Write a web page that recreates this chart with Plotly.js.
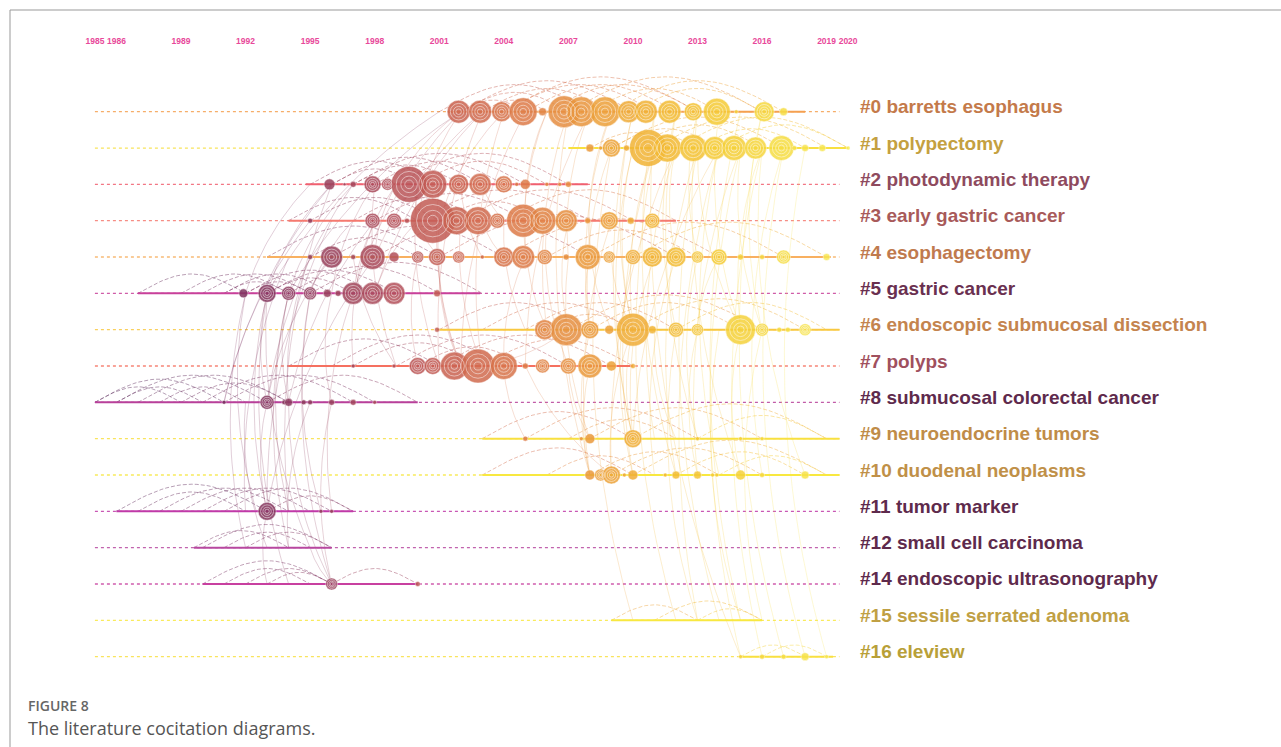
<!DOCTYPE html>
<html>
<head>
<meta charset="utf-8">
<script src="https://cdn.plot.ly/plotly-3.0.1.min.js"></script>
<style>
html,body{margin:0;padding:0;background:#fff;}
#chart{width:1281px;height:747px;}
</style>
</head>
<body>
<div id="chart"></div>
<script>
// ---------- DATA ----------
const tickYears = [1985, 1986, 1989, 1992, 1995, 1998, 2001, 2004, 2007, 2010, 2013, 2016, 2019, 2020];
const tickText  = ['1985','1986','1989','1992','1995','1998','2001','2004','2007','2010','2013','2016','2019','2020'];

const clusterIds   = ['#0','#1','#2','#3','#4','#5','#6','#7','#8','#9','#10','#11','#12','#14','#15','#16'];
const clusterNames = ['barretts esophagus','polypectomy','photodynamic therapy','early gastric cancer','esophagectomy',
  'gastric cancer','endoscopic submucosal dissection','polyps','submucosal colorectal cancer','neuroendocrine tumors',
  'duodenal neoplasms','tumor marker','small cell carcinoma','endoscopic ultrasonography','sessile serrated adenoma','eleview'];
const labelColors  = ['#c47a4a','#c4a040','#8e4a5e','#a85a5a','#c07a4e','#6a3050','#c4844e','#a0505e','#5e2a4c',
  '#c08c48','#c09048','#5e2a4c','#5e2a4c','#5e2a4c','#c0a044','#b8a038'];
const lineColors   = ['#f5a050','#f8e040','#f06070','#f57a70','#f8b060','#c8409a','#f8c840','#f57060','#b8409a',
  '#f8e040','#f8e840','#c03aa8','#b848a0','#c840a0','#f8e840','#f8e040'];
const spanStart = [2001.4, 2007, 1994.8, 1994, 1993, 1987, 2001, 1994, 1985, 2003, 2003, 1986, 1989.6, 1990, 2009, 2015];
const spanEnd   = [2018, 2020, 2007.9, 2012, 2019.2, 2002.9, 2019.6, 2010, 2000, 2019.6, 2019.6, 1997, 1996, 2000, 2016, 2019.3];
const timelineStart = 1985, timelineEnd = 2019.6;

// nodes per cluster row: publication year and node diameter (citation size)
const nodeYears = [
  [2001.9,2002.9,2003.9,2004.9,2005.8,2006.8,2007.6,2008.7,2009.8,2010.6,2011.7,2012.8,2013.9,2014.8,2016.1,2017],
  [2008,2008.5,2009,2009.7,2010.7,2011.6,2012.8,2013.8,2014.7,2015.7,2016.9,2017.5,2018,2018.8,2020],
  [1995.9,1996.6,1997,1997.9,1998.6,1999.6,2000.7,2001.9,2002.9,2004,2004.6,2005,2006,2006.6,2007],
  [1995,1997.9,1998.9,1999.5,2000.7,2001.8,2002.8,2003.7,2004.9,2005.8,2006.9,2007.9,2008.9,2009.9,2010.9],
  [1995,1996,1997,1997.9,1998.9,2000,2000.9,2001.9,2003,2004,2004.9,2005.9,2006.9,2007.9,2008.9,2010,2010.9,2012,2013,2014,2015,2016,2017,2019],
  [1991.9,1993,1994,1995,1995.8,1996.3,1997,1997.9,1998.9,2000.9],
  [2000.9,2005.9,2006.9,2008,2008.9,2010,2010.9,2012,2013,2015,2016,2016.8,2017.2,2018],
  [1997,1998.9,2000,2000.7,2001.7,2002.8,2004,2005,2005.8,2007,2008,2009,2010],
  [1991,1993,1993.8,1994,1994.7,1995,1996,1997,1998],
  [2005,2007.6,2008,2010,2013,2015,2016],
  [2008,2008.5,2009,2009.6,2010,2011.5,2012,2013,2013.7,2013.9,2015,2016,2018],
  [1993,1995.5,1996],
  [],
  [1996,2000],
  [],
  [2015,2016,2017,2018,2019]
];
const nodeSizes = [
  [23,23,20,28,8,32,30,30,22,23,23,18,27,4,20,8],
  [8,4,18,6,37,28,27,23,25,22,25,5,7,7,4],
  [11,3,6,17,12,36,28,20,22,17,4,10,4,4,6],
  [5,15,15,5,45,28,28,15,33,27,22,6,18,7,15],
  [5,22,5,25,10,12,17,12,4,20,23,15,6,25,12,15,20,20,12,16,6,5,14,7],
  [9,18,14,13,8,6,22,22,22,7],
  [5,20,32,18,9,33,8,15,12,30,13,5,5,12],
  [4,4,17,17,28,34,27,6,14,16,24,10,5],
  [4,14,5,8,5,5,6,6,4],
  [5,4,10,18,4,4,4],
  [10,12,18,4,10,4,8,8,4,4,10,5,8],
  [18,4,4],
  [],
  [12,5],
  [],
  [4,5,5,8,4]
];

// co-citation arcs inside a cluster: [row, fromYear, toYear]
const intraArcs = [
  [0,2002,2005],[0,2002,2007],[0,2003,2009],[0,2004,2011],[0,2006,2013],[0,2007,2016],[0,2009,2017],[0,2001,2008],[0,2005,2012],[0,2008,2014],[0,2003,2006],[0,2010,2016],[0,2002,2010],[0,2004,2013],
  [1,2009,2014],[1,2010,2016],[1,2011,2019],[1,2012,2020],[1,2013,2018],[1,2008,2012],[1,2014,2020],[1,2009,2017],[1,2010,2013],
  [2,1995,2001],[2,1996,2003],[2,1997,2005],[2,1999,2007],[2,2000,2006],[2,1998,2004],[2,1996,2000],[2,1997,2002],
  [3,1995,2001],[3,1998,2005],[3,2000,2008],[3,2002,2010],[3,1994,2000],[3,2004,2012],[3,1997,2003],[3,2001,2006],
  [4,1993,2001],[4,1996,2004],[4,1998,2008],[4,2004,2014],[4,2008,2017],[4,2001,2012],[4,2010,2019],[4,1995,2000],[4,2006,2013],
  [5,1987,1992],[5,1989,1994],[5,1991,1996],[5,1992,1998],[5,1993,1999],[5,1994,2001],[5,1990,1995],[5,1995,2003],[5,1992,1995],[5,1993,1997],[5,1991,1994],
  [6,2005,2012],[6,2007,2016],[6,2010,2018],[6,2012,2019],[6,2003,2010],[6,2008,2015],[6,2001,2008],[6,2006,2010],
  [7,1997,2003],[7,1999,2007],[7,2001,2009],[7,1994,2001],[7,2003,2010],[7,1996,2004],[7,2000,2005],
  [8,1985,1991],[8,1986,1993],[8,1987,1994],[8,1988,1992],[8,1990,1997],[8,1991,1998],[8,1993,2000],[8,1985,1989],[8,1989,1994],[8,1986,1990],
  [9,2003,2010],[9,2005,2013],[9,2008,2016],[9,2010,2019],[9,2013,2019],[9,2007,2012],
  [10,2003,2010],[10,2008,2014],[10,2009,2016],[10,2010,2019],[10,2012,2018],[10,2014,2019],[10,2006,2011],
  [11,1986,1993],[11,1988,1994],[11,1990,1996],[11,1991,1997],[11,1993,1997],[11,1987,1992],[11,1989,1995],
  [12,1989.6,1994],[12,1990,1996],[12,1991,1995],[12,1992,1996],
  [13,1990,1996],[13,1991,1995],[13,1992,1996],[13,1996,2000],[13,1993,1996],
  [14,2009,2013],[14,2011,2016],[14,2013,2016],
  [15,2015,2018],[15,2016,2019]
];

// co-citation links between clusters: [fromRow, fromYear, toRow, toYear]
const crossLinks = [
  [5,1993,8,1993],[5,1993,11,1993],[5,1992,11,1992.5],[5,1994,8,1994],[5,1994,12,1994],[5,1995,11,1995.5],
  [5,1993,13,1994],[8,1993,11,1993],[8,1994,13,1996],[8,1996,13,1996],[11,1993,13,1993],[12,1995,13,1996],
  [5,1996,8,1996],[5,1997,11,1996],[2,1996,5,1993],[2,1997,5,1994],[2,1998,5,1996],[3,1997,5,1995],
  [3,1998,8,1994],[4,1996,5,1995],[4,1996,8,1993],[2,1996,8,1991],[4,1998,11,1993],[5,1992,12,1992],
  [5,1994,11,1994],[8,1992,12,1993],[0,2002,5,1997],[0,2003,5,1998],[2,1999,5,1997],[3,2000,5,1998],
  [0,2002,2,1999],[0,2002,3,2000],[0,2003,4,1998],[0,2005,7,2002],[0,2007,6,2006],[0,2008,4,2007],
  [0,2009,4,2008],[0,2010,6,2010],[1,2010,6,2010],[1,2011,6,2010],[1,2012,10,2009],[1,2013,6,2015],
  [1,2014,9,2010],[1,2015,10,2013],[1,2016,15,2016],[1,2017,15,2018],[1,2011,14,2012],[1,2013,14,2014],
  [1,2010,9,2010],[0,2013,4,2013],[0,2016,6,2016],[3,2001,7,2002],[3,2002,7,2003],[3,2003,4,2004],
  [3,2005,6,2006],[3,2007,6,2007],[2,2000,3,2000],[2,2001,7,2002],[2,2000,7,2001],[7,2003,6,2007],
  [7,2008,10,2008],[7,2004,9,2005],[4,2008,6,2008],[4,2010,10,2010],[4,2011,9,2010],[6,2010,9,2010],
  [6,2010,10,2009],[6,2015,10,2015],[6,2016,14,2016],[6,2013,10,2013],[3,2009,10,2008],[0,2004,3,2001],
  [0,2006,3,2005],[4,2000,7,2000],[4,2001,7,2002],[2,1999,4,1998],[3,2000,4,2001],[0,2007,10,2008],
  [1,2009,14,2010],[6,2012,14,2013],[0,2011,15,2015],[1,2016,10,2018],[0,2012,6,2012],[1,2012,4,2012],
  [0,2014,6,2015],[1,2015,6,2016],[0,2006,4,2005],[2,1998,7,1999],[3,1998,7,1997],[4,1997,7,1999],
  [0,2001,5,1993],[0,2002,5,1994],[2,1997,8,1993],[3,1996,11,1993],[4,1995,8,1994],[4,1994,11,1992],
  [2,1996,11,1994],[3,1995,8,1991],[5,1993,12,1995],[5,1995,13,1996],[8,1995,12,1994],[2,1995,5,1992],
  [0,2003,7,2001],[0,2004,7,2003],[0,2008,7,2005],[0,2009,6,2008],[0,2010,9,2010],[0,2011,10,2012],
  [0,2012,9,2013],[0,2013,10,2015],[0,2015,14,2015],[0,2016,15,2017],[1,2009,6,2008],[1,2011,10,2010],
  [1,2012,9,2011],[1,2013,10,2012],[1,2014,14,2013],[1,2015,15,2015],[1,2016,6,2015],[1,2017,10,2016],
  [1,2018,15,2019],[1,2014,10,2014],[3,2004,6,2005],[3,2006,7,2007],[3,2008,6,2009],[4,2005,7,2004],
  [4,2007,9,2008],[4,2009,6,2010],[4,2012,10,2011],[4,2013,9,2013],[4,2014,6,2013],[7,2005,10,2009],
  [7,2007,9,2008],[6,2008,10,2008],[6,2011,9,2012],[6,2014,14,2015],[2,2002,4,2003],[2,2003,3,2004]
];

// ---------- HELPERS ----------
const yearStops = [1985,1991,1995,1999,2002,2005,2008,2011,2014,2017,2020];
const colorStops = ['#5a2a5a','#7a3060','#903c5c','#b4505a','#cc6450','#de7c48','#eb9a3c','#f2b634','#f5cc36','#f6de44','#f8ec5a'];
function hex2rgb(h){return [parseInt(h.slice(1,3),16),parseInt(h.slice(3,5),16),parseInt(h.slice(5,7),16)];}
function colorAt(y, a){
  if (y <= yearStops[0]) y = yearStops[0];
  if (y >= yearStops[yearStops.length-1]) y = yearStops[yearStops.length-1]-1e-6;
  let i = 0; while (yearStops[i+1] < y) i++;
  const t = (y - yearStops[i])/(yearStops[i+1]-yearStops[i]);
  const c0 = hex2rgb(colorStops[i]), c1 = hex2rgb(colorStops[i+1]);
  const c = c0.map((v,k)=>Math.round(v+(c1[k]-v)*t));
  return 'rgba('+c[0]+','+c[1]+','+c[2]+','+a+')';
}
const colorscale = yearStops.map((y,i)=>[(y-1985)/35, colorStops[i]]);

// pixel scale (used to shape curves only)
const PX_PER_YEAR = 21.52, PX_PER_ROW = 36.33;

const traces = [];

// dotted full timelines
clusterIds.forEach((id, r) => {
  traces.push({type:'scatter', mode:'lines', x:[timelineStart, timelineEnd], y:[r, r],
    line:{color:lineColors[r], width:1.3, dash:'dot'}, opacity:0.85, hoverinfo:'skip', showlegend:false});
});

const buckets = {};
function addCurve(xs, ys, yr, alpha, width, dash){
  const key = Math.round(yr) + '_' + alpha + '_' + width + '_' + dash;
  if (!buckets[key]) buckets[key] = {x:[], y:[], yr:Math.round(yr), alpha, width, dash};
  buckets[key].x.push(...xs, null); buckets[key].y.push(...ys, null);
}

// intra-cluster arcs
intraArcs.forEach(([r,a,b]) => {
  const wpx = (b-a)*PX_PER_YEAR;
  const hpx = Math.min(0.18*wpx, 44);
  const xs=[], ys=[];
  for (let k=0;k<=30;k++){
    const t=k/30;
    xs.push(a+(b-a)*t);
    ys.push(r - (hpx*Math.sin(Math.PI*t))/PX_PER_ROW);
  }
  addCurve(xs, ys, a, 0.45, 1, '4px,2px');
});

// cross-cluster links (gently curved)
crossLinks.forEach(([r1,y1,r2,y2]) => {
  const p0=[y1*PX_PER_YEAR, r1*PX_PER_ROW], p2=[y2*PX_PER_YEAR, r2*PX_PER_ROW];
  const dx=p2[0]-p0[0], dy=p2[1]-p0[1], len=Math.hypot(dx,dy);
  const off = 0.12*len;
  const c=[(p0[0]+p2[0])/2 - dy/len*off, (p0[1]+p2[1])/2 + dx/len*off];
  const xs=[], ys=[];
  for (let k=0;k<=30;k++){
    const t=k/30, u=1-t;
    const px=u*u*p0[0]+2*u*t*c[0]+t*t*p2[0];
    const py=u*u*p0[1]+2*u*t*c[1]+t*t*p2[1];
    xs.push(px/PX_PER_YEAR); ys.push(py/PX_PER_ROW);
  }
  addCurve(xs, ys, Math.min(y1,y2), 0.3, 0.8, 'solid');
});

Object.values(buckets).forEach(b => {
  traces.push({type:'scatter', mode:'lines', x:b.x, y:b.y,
    line:{color:colorAt(b.yr, b.alpha), width:b.width, dash:b.dash},
    hoverinfo:'skip', showlegend:false});
});

// solid active spans
clusterIds.forEach((id, r) => {
  traces.push({type:'scatter', mode:'lines', x:[spanStart[r], spanEnd[r]], y:[r, r],
    line:{color:lineColors[r], width:2}, hoverinfo:'skip', showlegend:false});
});

// nodes
const nx=[], ny=[], ns=[];
nodeYears.forEach((arr, r) => arr.forEach((yv, i) => { nx.push(yv); ny.push(r); ns.push(nodeSizes[r][i]); }));
traces.push({type:'scatter', mode:'markers', x:nx, y:ny,
  marker:{size:ns, color:nx, colorscale:colorscale, cmin:1985, cmax:2020, opacity:0.85,
          line:{color:'rgba(255,255,255,0.6)', width:0.8}},
  hoverinfo:'skip', showlegend:false, cliponaxis:false});

// tree-ring look inside larger nodes
const bigIdx = ns.map((s,i)=>i).filter(i=>ns[i]>=12);
[0.72, 0.46, 0.24].forEach(f => {
  traces.push({type:'scatter', mode:'markers', x:bigIdx.map(i=>nx[i]), y:bigIdx.map(i=>ny[i]),
    marker:{size:bigIdx.map(i=>Math.max(3, ns[i]*f)), color:'rgba(0,0,0,0)',
            line:{color:'rgba(255,255,255,0.7)', width:1}},
    hoverinfo:'skip', showlegend:false});
});

// ---------- LAYOUT ----------
const annotations = clusterIds.map((id, r) => ({
  xref:'paper', yref:'y', x:858/1281, y:r, xanchor:'left', yanchor:'middle', yshift:5,
  text:'<b>'+id+' '+clusterNames[r]+'</b>', showarrow:false,
  font:{family:'Liberation Sans, Arial, sans-serif', size:19, color:labelColors[r]}
}));
annotations.push({xref:'paper', yref:'paper', x:26/1281, y:(747-705)/697, xanchor:'left', yanchor:'middle',
  text:'FIGURE 8', showarrow:false, font:{family:'Open Sans, sans-serif', size:14, color:'#666', weight:600}});
annotations.push({xref:'paper', yref:'paper', x:26/1281, y:(747-728)/697, xanchor:'left', yanchor:'middle',
  text:'The literature cocitation diagrams.', showarrow:false, font:{family:'Open Sans, sans-serif', size:18, color:'#555'}});

const x0 = 1989 - 181/PX_PER_YEAR;
const x1 = x0 + 1281/PX_PER_YEAR;
const vTop = -(111.7-50)/PX_PER_ROW;
const vBot = vTop + 697/PX_PER_ROW;

const layout = {
  width:1281, height:747,
  margin:{l:0, r:0, t:50, b:0},
  paper_bgcolor:'#fff', plot_bgcolor:'#fff',
  showlegend:false, hovermode:false,
  xaxis:{range:[x0, x1], side:'top', tickvals:tickYears, ticktext:tickText, ticks:'', ticklabelstandoff:3,
         showgrid:false, zeroline:false, showline:false, fixedrange:true,
         tickfont:{family:'Liberation Sans, Arial, sans-serif', size:8.5, color:'#e8489a', weight:'bold'}},
  yaxis:{range:[vBot, vTop], visible:false, showgrid:false, zeroline:false, fixedrange:true},
  annotations:annotations,
  shapes:[
    {type:'line', xref:'paper', yref:'paper', x0:10/1281, x1:1, y0:(747-10)/697, y1:(747-10)/697, line:{color:'#999', width:1}},
    {type:'line', xref:'paper', yref:'paper', x0:10/1281, x1:10/1281, y0:(747-10)/697, y1:-0.01, line:{color:'#999', width:1}}
  ]
};

Plotly.newPlot('chart', traces, layout, {displayModeBar:false, staticPlot:true});
</script>
</body>
</html>
